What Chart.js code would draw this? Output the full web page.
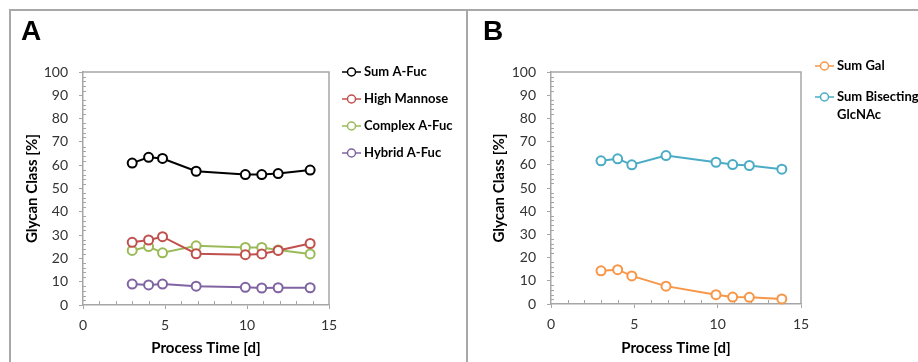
<!DOCTYPE html>
<html>
<head>
<meta charset="utf-8">
<script src="https://cdn.jsdelivr.net/npm/chart.js@4"></script>
<style>
  body { margin: 0; background: #fff; }
  #wrap { position: relative; width: 918px; height: 362px; overflow: hidden; font-family: Lato, sans-serif; }
  canvas { position: absolute; top: 0; }
  .frame { position: absolute; background: #a8a8a8; }
  .letter { position: absolute; top: 17px; font: bold 28px "Liberation Sans", Arial, sans-serif; line-height: 28px; color: #000; }
</style>
</head>
<body>
<div id="wrap">
  <canvas id="chartA" width="467" height="362" style="left:0"></canvas>
  <canvas id="chartB" width="451" height="362" style="left:467px"></canvas>
  <div class="frame" style="left:9px;top:9px;width:909px;height:2px"></div>
  <div class="frame" style="left:9px;top:9px;width:2px;height:353px"></div>
  <div class="frame" style="left:466px;top:9px;width:2px;height:353px"></div>
  <div class="letter" style="left:21px">A</div>
  <div class="letter" style="left:483px">B</div>
</div>
<script>
// process days (x) shared by both panels
let days = [3, 4, 4.85, 6.9, 9.9, 10.9, 11.9, 13.85];

// panel A
let sumAFuc = [60.9, 63.4, 62.9, 57.4, 56.0, 56.0, 56.4, 57.9];
let highMannose = [26.9, 27.9, 29.3, 22.0, 21.6, 21.9, 23.4, 26.4];
let complexAFuc = [23.4, 25.1, 22.4, 25.4, 24.7, 24.7, 23.6, 21.9];
let hybridAFuc = [9.0, 8.6, 9.0, 8.1, 7.6, 7.3, 7.4, 7.4];

// panel B
let sumGal = [14.3, 14.8, 12.1, 7.7, 4.0, 3.0, 2.9, 2.2];
let sumBisecting = [61.7, 62.6, 60.0, 64.0, 61.1, 60.1, 59.7, 58.1];

let xTicks = [0, 5, 10, 15];
let yTicks = [0, 10, 20, 30, 40, 50, 60, 70, 80, 90, 100];

const axisGray = '#a6a6a6';
const tickFont = { family: 'Lato', size: 14 };
const titleFont = { family: 'Lato', size: 15, weight: 'bold' };

function series(label, values, color) {
    return {
        label: label,
        data: values.map((v, i) => ({ x: days[i], y: v })),
        borderColor: color,
        borderWidth: 2,
        pointRadius: 4.5,
        pointBorderWidth: 2,
        pointBackgroundColor: '#fff',
        pointBorderColor: color,
        tension: 0,
        clip: false
    };
}

// minor ticks pointing inward plus the grey top/right frame of the plot
const plotFrame = {
    id: 'plotFrame',
    beforeDatasetsDraw(chart) {
        const { ctx, chartArea: a, scales: { x, y } } = chart;
        ctx.save();
        ctx.strokeStyle = axisGray;
        ctx.lineWidth = 1;
        ctx.beginPath();
        for (let v = 2; v < 100; v += 2) {
            if (v % 10 === 0) continue;
            const py = Math.round(y.getPixelForValue(v)) + 0.5;
            ctx.moveTo(a.left, py);
            ctx.lineTo(a.left + 3, py);
        }
        for (let v = 1; v < 15; v++) {
            if (v % 5 === 0) continue;
            const px = Math.round(x.getPixelForValue(v)) + 0.5;
            ctx.moveTo(px, a.bottom);
            ctx.lineTo(px, a.bottom - 4);
        }
        ctx.stroke();
        ctx.lineWidth = 1.5;
        ctx.beginPath();
        ctx.moveTo(a.left, a.top);
        ctx.lineTo(a.right, a.top);
        ctx.lineTo(a.right, a.bottom);
        ctx.stroke();
        ctx.restore();
    }
};

// legend at the right: short line with open circle, bold label
const sideLegend = {
    id: 'sideLegend',
    afterDraw(chart, args, opts) {
        const ctx = chart.ctx;
        ctx.save();
        ctx.font = 'bold 13px Lato';
        ctx.textBaseline = 'middle';
        ctx.textAlign = 'left';
        let yy = opts.y;
        chart.data.datasets.forEach(ds => {
            const c = ds.borderColor;
            ctx.strokeStyle = c;
            ctx.lineWidth = 1.5;
            ctx.beginPath();
            ctx.moveTo(opts.x, yy);
            ctx.lineTo(opts.x + 19, yy);
            ctx.stroke();
            ctx.beginPath();
            ctx.arc(opts.x + 9.5, yy, 4, 0, Math.PI * 2);
            ctx.fillStyle = '#fff';
            ctx.fill();
            ctx.stroke();
            // simple word wrap
            const words = ds.label.split(' ');
            let lines = [], line = '';
            words.forEach(w => {
                const t = line ? line + ' ' + w : w;
                if (line && ctx.measureText(t).width > opts.maxWidth) { lines.push(line); line = w; }
                else line = t;
            });
            lines.push(line);
            ctx.fillStyle = '#000';
            lines.forEach((l, k) => ctx.fillText(l, opts.x + 22, yy + k * opts.lineGap));
            yy += opts.gap + (lines.length - 1) * opts.lineGap;
        });
        ctx.restore();
    }
};

function panelOptions(yWidth, xHeight, padRight, legend) {
    return {
        responsive: false,
        animation: false,
        layout: { padding: { top: 72, right: padRight, left: 0, bottom: 0 } },
        plugins: {
            legend: { display: false },
            tooltip: { enabled: false },
            sideLegend: legend
        },
        scales: {
            x: {
                type: 'linear',
                min: 0,
                max: 15,
                afterBuildTicks: s => { s.ticks = xTicks.map(v => ({ value: v })); },
                afterFit: s => { s.height = xHeight; },
                ticks: { font: tickFont, color: '#333', padding: 8, maxRotation: 0 },
                grid: { drawOnChartArea: false, color: axisGray, tickLength: 4 },
                border: { color: axisGray, width: 1.5 },
                title: { display: true, text: 'Process Time [d]', font: titleFont, color: '#000', padding: { bottom: 5 } }
            },
            y: {
                min: 0,
                max: 100,
                afterBuildTicks: s => { s.ticks = yTicks.map(v => ({ value: v })); },
                afterFit: s => { s.width = yWidth; },
                ticks: { font: tickFont, color: '#333', padding: 11 },
                grid: { drawOnChartArea: false, color: axisGray, tickLength: 4 },
                border: { color: axisGray, width: 1.5 },
                title: { display: true, text: 'Glycan Class [%]', font: titleFont, color: '#000', padding: { top: 23 } }
            }
        }
    };
}

let chartA = new Chart(document.getElementById('chartA').getContext('2d'), {
    type: 'line',
    data: {
        datasets: [
            series('Sum A-Fuc', sumAFuc, '#000000'),
            series('High Mannose', highMannose, '#c0504d'),
            series('Complex A-Fuc', complexAFuc, '#9bbb59'),
            series('Hybrid A-Fuc', hybridAFuc, '#8064a2')
        ]
    },
    options: panelOptions(83, 57, 138, { x: 342, y: 72, gap: 27, lineGap: 18, maxWidth: 120 }),
    plugins: [plotFrame, sideLegend]
});

let chartB = new Chart(document.getElementById('chartB').getContext('2d'), {
    type: 'line',
    data: {
        datasets: [
            series('Sum Gal', sumGal, '#f79646'),
            series('Sum Bisecting GlcNAc', sumBisecting, '#4bacc6')
        ]
    },
    options: panelOptions(84, 58, 117, { x: 348, y: 66, gap: 31, lineGap: 18, maxWidth: 100 }),
    plugins: [plotFrame, sideLegend]
});
</script>
</body>
</html>
